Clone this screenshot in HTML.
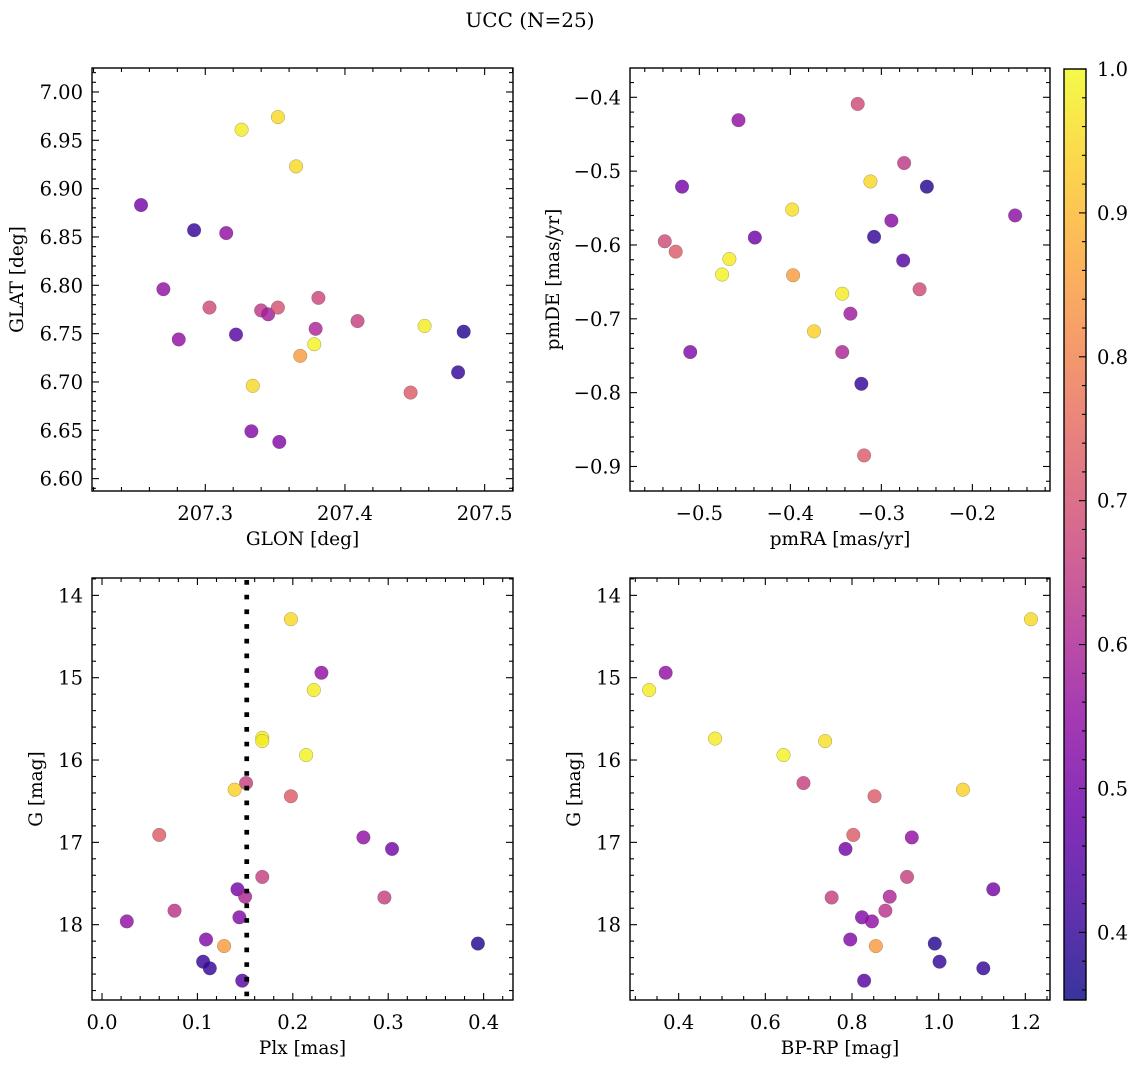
<!DOCTYPE html>
<html><head><meta charset="utf-8">
<style>
html,body{margin:0;padding:0;background:#fff;}
svg{display:block;font-family:"DejaVu Serif","Liberation Serif",serif;}
</style></head>
<body>
<svg id="fig" width="1136" height="1068" viewBox="0 0 1136 1068" xmlns="http://www.w3.org/2000/svg">
<rect width="1136" height="1068" fill="#fff"/>
<text x="530" y="27" font-size="20" text-anchor="middle" font-family="DejaVu Serif, serif">UCC (N=25)</text>
<defs><linearGradient id="plasmaGrad" x1="0" y1="1" x2="0" y2="0"></linearGradient></defs>
</svg>
<script>
// ---- data: top-left (GLON vs GLAT) ----
const tlGlon=[207.326,207.352,207.365,207.254,207.292,207.315,207.270,207.303,207.340,207.345,207.352,207.381,207.379,207.409,207.281,207.322,207.457,207.485,207.378,207.368,207.334,207.481,207.447,207.333,207.353];
const tlGlat=[6.961,6.974,6.923,6.883,6.857,6.854,6.796,6.777,6.774,6.770,6.777,6.787,6.755,6.763,6.744,6.749,6.758,6.752,6.739,6.727,6.696,6.710,6.689,6.649,6.638];
const tlProb=[0.98,0.95,0.95,0.50,0.40,0.55,0.55,0.68,0.64,0.58,0.70,0.67,0.60,0.66,0.55,0.45,0.98,0.38,0.99,0.85,0.95,0.40,0.72,0.52,0.52];
// ---- data: top-right (pmRA vs pmDE) ----
const trPmra=[-0.326,-0.457,-0.275,-0.312,-0.519,-0.250,-0.153,-0.398,-0.289,-0.308,-0.538,-0.526,-0.439,-0.276,-0.467,-0.475,-0.397,-0.258,-0.343,-0.334,-0.374,-0.510,-0.343,-0.322,-0.319];
const trPmde=[-0.409,-0.431,-0.489,-0.514,-0.521,-0.521,-0.560,-0.552,-0.567,-0.589,-0.595,-0.609,-0.590,-0.621,-0.619,-0.640,-0.641,-0.660,-0.666,-0.693,-0.717,-0.745,-0.745,-0.788,-0.885];
const trProb=[0.68,0.55,0.64,0.95,0.50,0.38,0.54,0.96,0.53,0.40,0.68,0.72,0.49,0.45,0.98,0.99,0.85,0.68,0.98,0.57,0.94,0.52,0.60,0.40,0.72];
// ---- data: bottom-left (Plx vs G) ----
const blPlx=[0.198,0.230,0.222,0.168,0.168,0.214,0.151,0.139,0.198,0.060,0.274,0.304,0.168,0.142,0.150,0.296,0.076,0.026,0.144,0.109,0.128,0.394,0.106,0.113,0.147];
const blG=[14.29,14.94,15.15,15.73,15.77,15.94,16.28,16.36,16.44,16.91,16.94,17.08,17.42,17.57,17.66,17.67,17.83,17.96,17.91,18.18,18.26,18.23,18.45,18.53,18.68];
const blProb=[0.95,0.55,0.98,0.98,0.98,0.99,0.66,0.94,0.72,0.72,0.55,0.50,0.66,0.50,0.60,0.66,0.63,0.55,0.52,0.52,0.85,0.38,0.40,0.40,0.45];
const plxLine=[0.1517];
// ---- data: bottom-right (BP-RP vs G) ----
const brBprp=[1.213,0.370,0.332,0.484,0.642,0.738,0.688,0.852,1.056,0.803,0.938,0.785,0.927,1.126,0.753,0.887,0.877,0.823,0.846,0.796,0.855,0.991,1.002,1.103,0.828];
const brG=[14.29,14.94,15.15,15.74,15.94,15.77,16.28,16.44,16.36,16.91,16.94,17.08,17.42,17.57,17.67,17.66,17.83,17.91,17.96,18.18,18.26,18.23,18.45,18.53,18.68];
const brProb=[0.95,0.55,0.98,0.98,0.99,0.96,0.66,0.72,0.94,0.72,0.55,0.50,0.66,0.50,0.66,0.60,0.63,0.52,0.55,0.52,0.85,0.38,0.40,0.40,0.45];
// ---- tick labels ----
const tlXTicks=[207.3,207.4,207.5];
const tlYTicks=[6.60,6.65,6.70,6.75,6.80,6.85,6.90,6.95,7.00];
const trXTicks=[-0.5,-0.4,-0.3,-0.2];
const trYTicks=[-0.9,-0.8,-0.7,-0.6,-0.5,-0.4];
const blXTicks=[0.0,0.1,0.2,0.3,0.4];
const gTicks=[14,15,16,17,18];
const brXTicks=[0.4,0.6,0.8,1.0,1.2];
const cbTicks=[0.4,0.5,0.6,0.7,0.8,0.9,1.0];
const cbMin=0.353, cbMax=1.0;

const NS="http://www.w3.org/2000/svg";
const svg=document.getElementById('fig');
const plasma=[[13,8,135],[65,4,157],[106,0,168],[143,13,164],[177,42,144],[204,71,120],[225,100,98],[242,132,75],[252,166,54],[252,206,37],[240,249,33]];
function cmap(v){
  let t=(v-cbMin)/(cbMax-cbMin); t=Math.max(0,Math.min(1,t));
  const f=t*10, i=Math.min(9,Math.floor(f)), r=f-i;
  const a=plasma[i], b=plasma[i+1];
  return 'rgb('+a.map((c,k)=>Math.round(c+(b[k]-c)*r)).join(',')+')';
}
function el(tag,attrs,parent){
  const e=document.createElementNS(NS,tag);
  for(const k in attrs) e.setAttribute(k,attrs[k]);
  (parent||svg).appendChild(e); return e;
}
function fmtMinus(s){return s.replace('-','\u2212');}
const TFS=19.5, LFS=18.5;

function panel(name,box,xlim,ylim,xTicks,xMinor,yTicks,yMinor,xDec,yDec,xlabel,ylabel,ylabelX,xs,ys,ps){
  const g=el('g',{});
  
  
  const X=v=>box.x+(v-xlim[0])/(xlim[1]-xlim[0])*box.w;
  const Y=v=>box.y+(ylim[1]-v)/(ylim[1]-ylim[0])*box.h;
  const pg=el('g',{},g);
  
  
  for(let i=0;i<xs.length;i++){
    const c=el('circle',{cx:X(xs[i]),cy:Y(ys[i]),r:6.8,fill:cmap(ps[i]),'fill-opacity':0.82,stroke:'rgba(60,60,60,0.45)','stroke-width':0.5},pg);
    
    
  }
  const tk=el('g',{stroke:'#000','stroke-width':1.1},g);
  
  
  const lo=Math.min(xlim[0],xlim[1]),hi=Math.max(xlim[0],xlim[1]);
  for(let k=Math.ceil(lo/xMinor-1e-6);k*xMinor<=hi+1e-9;k++){
    const v=k*xMinor, px=X(v);
    const major=xTicks.some(t=>Math.abs(t-v)<xMinor/10);
    const L=major?7:4;
    el('line',{x1:px,y1:box.y+box.h,x2:px,y2:box.y+box.h-L},tk);
    el('line',{x1:px,y1:box.y,x2:px,y2:box.y+L},tk);
  }
  const ylo=Math.min(ylim[0],ylim[1]),yhi=Math.max(ylim[0],ylim[1]);
  for(let k=Math.ceil(ylo/yMinor-1e-6);k*yMinor<=yhi+1e-9;k++){
    const v=k*yMinor, py=Y(v);
    const major=yTicks.some(t=>Math.abs(t-v)<yMinor/10);
    const L=major?7:4;
    el('line',{x1:box.x,y1:py,x2:box.x+L,y2:py},tk);
    el('line',{x1:box.x+box.w,y1:py,x2:box.x+box.w-L,y2:py},tk);
  }
  const fr=el('rect',{x:box.x,y:box.y,width:box.w,height:box.h,fill:'none',stroke:'#000','stroke-width':1.4},g);
  
  
  xTicks.forEach(t=>{
    const tx=el('text',{x:X(t),y:box.y+box.h+29,'font-size':TFS,'text-anchor':'middle'},g);
    tx.textContent=fmtMinus(t.toFixed(xDec));
    
    
  });
  yTicks.forEach(t=>{
    const tx=el('text',{x:box.x-9,y:Y(t)+7,'font-size':TFS,'text-anchor':'end'},g);
    tx.textContent=fmtMinus(t.toFixed(yDec));
    
    
  });
  const xl=el('text',{x:box.x+box.w/2,y:box.y+box.h+54,'font-size':LFS,'text-anchor':'middle'},g);
  xl.textContent=xlabel;
  
  
  const cy=box.y+box.h/2;
  const yl=el('text',{x:ylabelX,y:cy,'font-size':LFS,'text-anchor':'middle',transform:'rotate(-90 '+ylabelX+' '+cy+')'},g);
  yl.textContent=ylabel;
  
  
  return {X,Y,g};
}

panel('panel-glon-glat',{x:92,y:68,w:421,h:423},[207.2189,207.5203],[6.5872,7.0248],tlXTicks,0.02,tlYTicks,0.01,1,2,'GLON [deg]','GLAT [deg]',23,tlGlon,tlGlat,tlProb);
panel('panel-pm',{x:630,y:68,w:420,h:423},[-0.5762,-0.1147],[-0.9332,-0.3603],trXTicks,0.02,trYTicks,0.02,1,1,'pmRA [mas/yr]','pmDE [mas/yr]',559,trPmra,trPmde,trProb);
const bl=panel('panel-plx-g',{x:92,y:578,w:421,h:422},[-0.0105,0.4308],[18.915,13.789],blXTicks,0.02,gTicks,0.2,1,0,'Plx [mas]','G [mag]',42,blPlx,blG,blProb);
panel('panel-cmd',{x:630,y:578,w:420,h:422},[0.2877,1.2569],[18.915,13.789],brXTicks,0.05,gTicks,0.2,1,0,'BP-RP [mag]','G [mag]',580,brBprp,brG,brProb);

plxLine.forEach(v=>{
  const ln=el('line',{x1:bl.X(v),x2:bl.X(v),y1:580,y2:1000,stroke:'#000','stroke-width':4.7,'stroke-dasharray':'4.7 10'});
  
  
});

const grad=document.getElementById('plasmaGrad');
for(let i=0;i<=20;i++){
  const v=cbMin+(cbMax-cbMin)*i/20;
  el('stop',{offset:(i/20),'stop-color':cmap(v),'stop-opacity':0.82},grad);
}
const cb={x:1064,y:69,w:22,h:931};
const cbY=v=>cb.y+(cbMax-v)/(cbMax-cbMin)*cb.h;
const cbg=el('g',{});


el('rect',{x:cb.x,y:cb.y,width:cb.w,height:cb.h,fill:'url(#plasmaGrad)'},cbg);
for(let k=Math.ceil(cbMin/0.02);k*0.02<=cbMax+1e-9;k++){
  const v=k*0.02; const major=cbTicks.some(t=>Math.abs(t-v)<0.002);
  el('line',{x1:cb.x+cb.w,x2:cb.x+cb.w-(major?7:4),y1:cbY(v),y2:cbY(v),stroke:'#000','stroke-width':1.1},cbg);
}
el('rect',{x:cb.x,y:cb.y,width:cb.w,height:cb.h,fill:'none',stroke:'#000','stroke-width':1.4},cbg);
cbTicks.forEach(t=>{
  const tx=el('text',{x:cb.x+cb.w+11,y:cbY(t)+7,'font-size':TFS},cbg);
  tx.textContent=t.toFixed(1);
  
  
});
</script>
</body></html>
